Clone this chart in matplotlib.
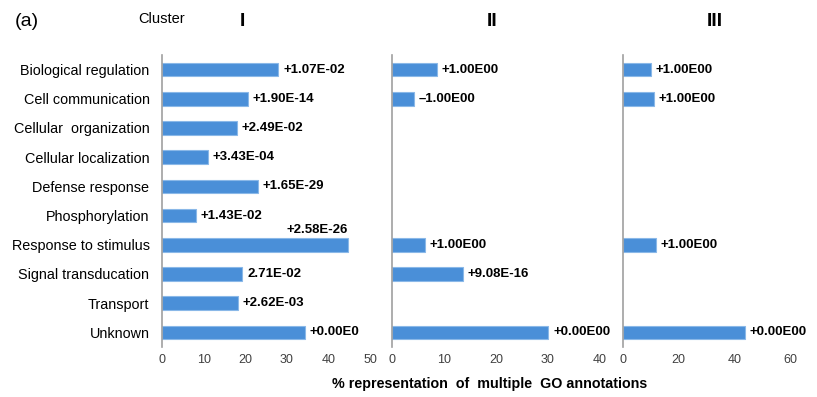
import matplotlib
matplotlib.use("Agg")
import matplotlib.pyplot as plt
import numpy as np

plt.rcParams['font.family'] = ['Liberation Sans', 'DejaVu Sans']

categories = ["Biological regulation", "Cell communication", "Cellular  organization",
              "Cellular localization", "Defense response", "Phosphorylation",
              "Response to stimulus", "Signal transducation", "Transport", "Unknown"]

# Cluster I
c1_values = [28.0, 20.7, 18.0, 11.0, 23.1, 8.1, 44.7, 19.3, 18.3, 34.3]
c1_labels = ["+1.07E-02", "+1.90E-14", "+2.49E-02", "+3.43E-04", "+1.65E-29",
             "+1.43E-02", "+2.58E-26", "2.71E-02", "+2.62E-03", "+0.00E0"]

# Cluster II
c2_cats = ["Biological regulation", "Cell communication", "Response to stimulus",
           "Signal transducation", "Unknown"]
c2_values = [8.7, 4.2, 6.4, 13.6, 30.1]
c2_labels = ["+1.00E00", "\u20131.00E00", "+1.00E00", "+9.08E-16", "+0.00E00"]

# Cluster III
c3_cats = ["Biological regulation", "Cell communication", "Response to stimulus", "Unknown"]
c3_values = [10.0, 11.2, 11.9, 43.8]
c3_labels = ["+1.00E00", "+1.00E00", "+1.00E00", "+0.00E00"]

panel_titles = ["I", "II", "III"]
xlims = [50, 40, 60]
xticks = [[0, 10, 20, 30, 40, 50], [0, 10, 20, 30, 40], [0, 20, 40, 60]]

W, H = 817, 397
fig = plt.figure(figsize=(W / 100, H / 100), dpi=100)

top = 1 - 55 / H
bottom = 1 - 347 / H
lefts = [162 / W, 391.7 / W, 622.7 / W]
widths = [208 / W, 208.3 / W, 167.3 / W]

bar_color = '#4A8FD8'
edge_color = '#8AB8E8'
ypos = {c: i for i, c in enumerate(categories)}

datasets = [(categories, c1_values, c1_labels),
            (c2_cats, c2_values, c2_labels),
            (c3_cats, c3_values, c3_labels)]

for k, (cats, vals, labs) in enumerate(datasets):
    ax = fig.add_axes([lefts[k], bottom, widths[k], top - bottom])
    ys = [ypos[c] for c in cats]
    ax.barh(ys, vals, height=0.47, color=bar_color, edgecolor=edge_color, linewidth=0.8)
    ax.set_ylim(len(categories) - 0.5, -0.5)
    ax.set_xlim(0, xlims[k])
    ax.set_xticks(xticks[k])
    ax.tick_params(axis='x', length=0, labelsize=9, labelcolor='#404040', pad=5)
    for s in ['top', 'right', 'bottom']:
        ax.spines[s].set_visible(False)
    ax.spines['left'].set_color('#A0A0A0')
    ax.spines['left'].set_linewidth(1.2)
    if k == 0:
        ax.set_yticks(range(len(categories)))
        ax.set_yticklabels(categories, fontsize=10.4)
        ax.tick_params(axis='y', length=0, pad=9)
    else:
        ax.set_yticks([])
    for y, v, lab, c in zip(ys, vals, labs, cats):
        if k == 0 and c == "Response to stimulus":
            ax.annotate(lab, (v, y), xytext=(0, 11), textcoords='offset points',
                        ha='right', va='center', fontsize=9.5, fontweight='bold')
        else:
            ax.annotate(lab, (v, y), xytext=(3.5, 0), textcoords='offset points',
                        ha='left', va='center', fontsize=9.5, fontweight='bold')

# titles
fig.text(15 / W, 1 - 21 / H, "(a)", fontsize=14, ha='left', va='center')
fig.text(162 / W, 1 - 19 / H, "Cluster", fontsize=10.5, ha='center', va='center')
title_x = [242, 492, 715]
for t, x in zip(panel_titles, title_x):
    fig.text(x / W, 1 - 22 / H, t, fontsize=14, fontweight='bold', ha='center', va='center')

fig.text(490 / W, 1 - 384 / H, "% representation  of  multiple  GO annotations",
         fontsize=10.3, fontweight='bold', ha='center', va='center')

fig.savefig("out.png", dpi=100)
